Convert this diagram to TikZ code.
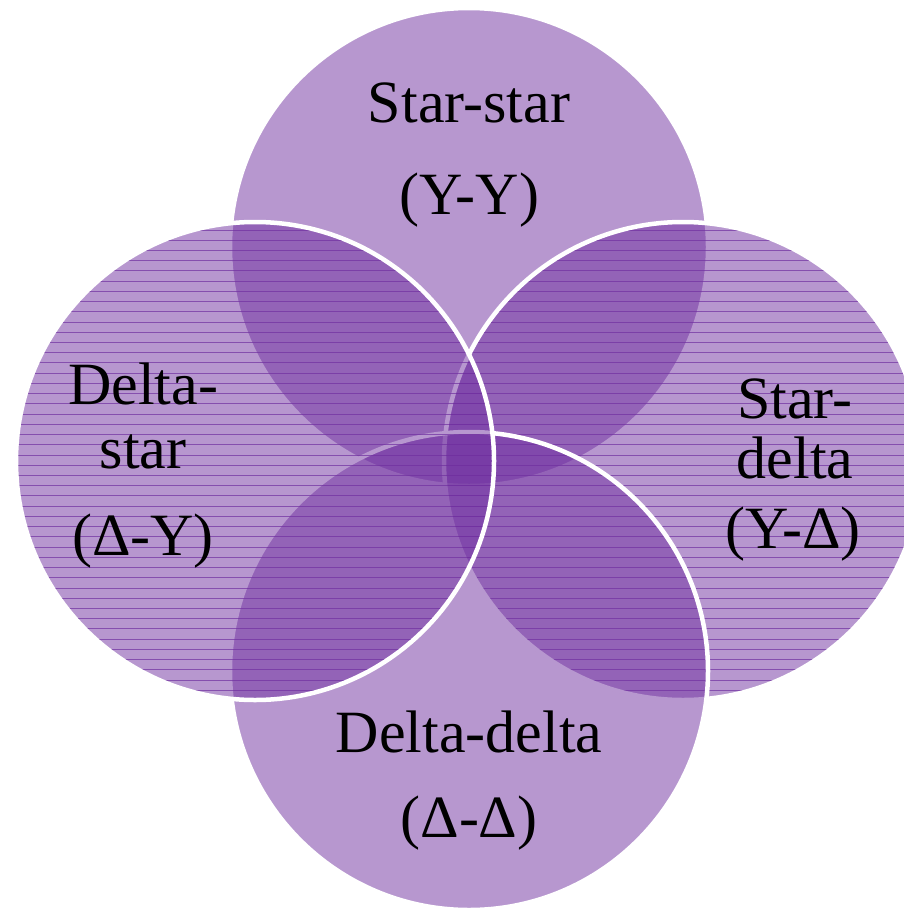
\documentclass[tikz,border=0pt]{standalone}
\usepackage{fontspec}
\setmainfont{Liberation Serif}
\definecolor{vpurple}{HTML}{7030A0}
\begin{document}
\begin{tikzpicture}[x=1pt,y=-1pt,
  venn/.style={circle,minimum size=478pt,inner sep=0pt,outer sep=0pt,
    fill=vpurple,fill opacity=0.5,draw=white,draw opacity=1,line width=4.5pt},
  stripe/.style={draw=vpurple,draw opacity=0.7,line width=1pt},
  lbl/.style={font=\fontsize{60}{72}\selectfont,anchor=base,inner sep=0pt}]
\useasboundingbox (0,0) rectangle (904,910);
% top circle
\node[venn] (cT) at (469,247) {};
% right circle with stripes
\node[venn] (cR) at (683,461) {};
\begin{scope}
  \clip (cR.center) circle[radius=236.6pt];
  \foreach \i in {0,...,47} \draw[stripe] (430,230+10.23*\i) -- (930,230+10.23*\i);
\end{scope}
% bottom circle
\node[venn] (cB) at (469,671) {};
% left circle with stripes
\node[venn] (cL) at (255,461) {};
\begin{scope}
  \clip (cL.center) circle[radius=236.6pt];
  \foreach \i in {0,...,47} \draw[stripe] (0,230+10.23*\i) -- (510,230+10.23*\i);
\end{scope}
% labels
\node[lbl] (tT1) at (469,122) {Star-star};
\node[lbl] (tT2) at (469,214) {(Y-Y)};
\node[lbl] (tL1) at (143,404) {Delta-};
\node[lbl] (tL2) at (143,468) {star};
\node[lbl] (tL3) at (143,555) {(Δ-Y)};
\node[lbl] (tR1) at (795,418) {Star-};
\node[lbl] (tR2) at (795,478) {delta};
\node[lbl] (tR3) at (793,548) {(Y-Δ)};
\node[lbl] (tB1) at (469,752) {Delta-delta};
\node[lbl] (tB2) at (469,837) {(Δ-Δ)};
\end{tikzpicture}
\end{document}
